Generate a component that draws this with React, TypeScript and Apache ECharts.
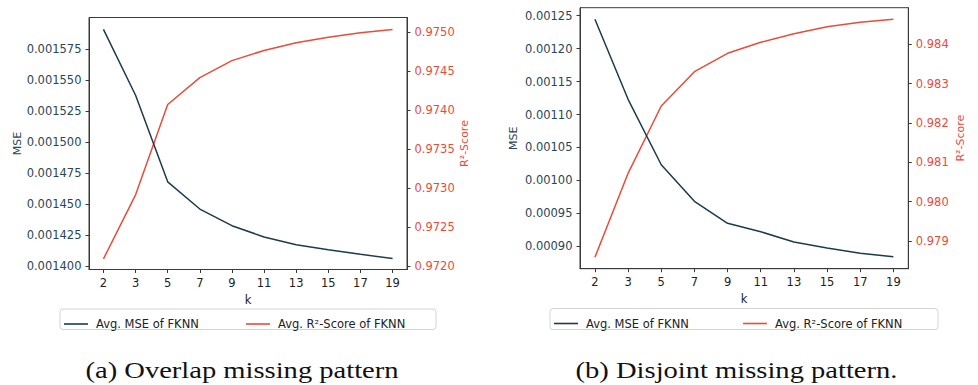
import React, { useEffect, useRef } from "react";
import * as echarts from "echarts";

const kValues = ["2", "3", "5", "7", "9", "11", "13", "15", "17", "19"];

const overlapMse = [0.0015908, 0.0015378, 0.001468, 0.0014461, 0.0014327, 0.0014236, 0.0014174, 0.0014134, 0.0014096, 0.0014062];
const overlapR2 = [0.972094, 0.972915, 0.974073, 0.974418, 0.974635, 0.974766, 0.974865, 0.974936, 0.974992, 0.975034];

const disjointMse = [0.0012445, 0.0011231, 0.0010238, 0.0009683, 0.0009349, 0.0009221, 0.0009065, 0.0008974, 0.0008893, 0.0008842];
const disjointR2 = [0.978586, 0.980721, 0.982432, 0.983304, 0.983771, 0.984051, 0.984269, 0.984447, 0.984559, 0.984635];

const overlapMseTicks = [0.0014, 0.001425, 0.00145, 0.001475, 0.0015, 0.001525, 0.00155, 0.001575];
const overlapR2Ticks = [0.972, 0.9725, 0.973, 0.9735, 0.974, 0.9745, 0.975];
const disjointMseTicks = [0.0009, 0.00095, 0.001, 0.00105, 0.0011, 0.00115, 0.0012, 0.00125];
const disjointR2Ticks = [0.979, 0.98, 0.981, 0.982, 0.983, 0.984];

const MSE_NAME = "Avg. MSE of FKNN";
const R2_NAME = "Avg. R²-Score of FKNN";

const DARK = "#1c3b4c";
const DARK_TEXT = "#2a4657";
const RED = "#e74c3c";
const FRAME = "#3a3a3a";
const FONT = "DejaVu Sans";

export default function App() {
  const ref = useRef<HTMLDivElement>(null);

  useEffect(() => {
    document.body.style.margin = "0";
    if (!ref.current) return;
    const chart = echarts.init(ref.current, null, { renderer: "svg" });
    const idx = kValues.map((_, i) => i);

    const xAxis = (gridIndex: number) => ({
      type: "value",
      gridIndex,
      min: -0.45,
      max: 9.45,
      name: "k",
      nameLocation: "middle",
      nameGap: 24,
      nameTextStyle: { color: "#222", fontSize: 11.5, fontFamily: FONT },
      axisLine: { show: true, onZero: false, lineStyle: { color: FRAME, width: 1 } },
      axisTick: { show: true, inside: false, length: 3.5, customValues: idx, lineStyle: { color: FRAME } },
      axisLabel: {
        customValues: idx,
        margin: 7,
        color: "#222",
        fontSize: 11.5,
        fontFamily: FONT,
        formatter: (v: number) => kValues[Math.round(v)] ?? "",
      },
      splitLine: { show: false },
    });

    const yAxis = (
      gridIndex: number,
      position: "left" | "right",
      min: number,
      max: number,
      ticks: number[],
      digits: number,
      name: string,
      color: string,
      nameGap: number
    ) => ({
      type: "value",
      gridIndex,
      position,
      min,
      max,
      name,
      nameLocation: "middle",
      nameGap,
      nameTextStyle: { color, fontSize: 11, fontFamily: FONT },
      axisLine: { show: true, onZero: false, lineStyle: { color: FRAME, width: 1 } },
      axisTick: { show: true, inside: false, length: 3.5, customValues: ticks, lineStyle: { color: FRAME } },
      axisLabel: {
        customValues: ticks,
        margin: 7.5,
        color,
        fontSize: 11.5,
        fontFamily: FONT,
        formatter: (v: number) => v.toFixed(digits),
      },
      splitLine: { show: false },
    });

    const line = (name: string, data: number[], xi: number, yi: number, color: string) => ({
      type: "line",
      name,
      xAxisIndex: xi,
      yAxisIndex: yi,
      data: data.map((v, i) => [i, v]),
      symbol: "none",
      lineStyle: { color, width: 1.5 },
      itemStyle: { color },
      z: yi % 2 === 0 ? 3 : 2,
    });

    const legend = (name: string, left: number, top: number, color: string) => ({
      data: [{ name, icon: "rect", itemStyle: { color } }],
      left,
      top,
      padding: 0,
      itemWidth: 24,
      itemHeight: 1.6,
      z: 5,
      selectedMode: false,
      textStyle: { color: "#222", fontSize: 11.5, fontFamily: FONT, padding: [0, 0, 0, 3] },
    });

    chart.setOption({
      animation: false,
      backgroundColor: "#fff",
      grid: [
        { left: 89, top: 17.5, width: 318, height: 252, show: true, borderColor: FRAME, borderWidth: 1, backgroundColor: "transparent" },
        { left: 580, top: 7.7, width: 328.3, height: 261, show: true, borderColor: FRAME, borderWidth: 1, backgroundColor: "transparent" },
      ],
      xAxis: [xAxis(0), xAxis(1)],
      yAxis: [
        yAxis(0, "left", 0.0013974, 0.0016004, overlapMseTicks, 6, "MSE", DARK_TEXT, 66),
        yAxis(0, "right", 0.971958, 0.975188, overlapR2Ticks, 4, "R²-Score", RED, 52),
        yAxis(1, "left", 0.000866, 0.0012621, disjointMseTicks, 5, "MSE", DARK_TEXT, 61),
        yAxis(1, "right", 0.978296, 0.98493, disjointR2Ticks, 3, "R²-Score", RED, 47),
      ],
      legend: [
        legend(MSE_NAME, 64, 318, DARK),
        legend(R2_NAME, 246, 318, RED),
        legend(MSE_NAME, 554, 317.5, DARK),
        legend(R2_NAME, 743, 317.5, RED),
      ],
      graphic: [
        { type: "rect", z: 0, shape: { x: 60, y: 309, width: 376, height: 20.5, r: 3 }, style: { fill: "#fff", stroke: "#d4d4d4", lineWidth: 1 } },
        { type: "rect", z: 0, shape: { x: 550, y: 308.5, width: 388, height: 21, r: 3 }, style: { fill: "#fff", stroke: "#d4d4d4", lineWidth: 1 } },
        {
          type: "text",
          z: 5,
          x: 242,
          y: 370,
          scaleX: 1.19,
          style: { text: "(a) Overlap missing pattern", font: "24px 'Liberation Serif'", fill: "#111", textAlign: "center", textVerticalAlign: "middle" },
        },
        {
          type: "text",
          z: 5,
          x: 736.5,
          y: 370,
          scaleX: 1.19,
          style: { text: "(b) Disjoint missing pattern.", font: "24px 'Liberation Serif'", fill: "#111", textAlign: "center", textVerticalAlign: "middle" },
        },
      ],
      series: [
        line(MSE_NAME, overlapMse, 0, 0, DARK),
        line(R2_NAME, overlapR2, 0, 1, RED),
        line(MSE_NAME, disjointMse, 1, 2, DARK),
        line(R2_NAME, disjointR2, 1, 3, RED),
      ],
    });

    return () => chart.dispose();
  }, []);

  return <div ref={ref} style={{ width: 978, height: 385, position: "absolute", left: 0, top: 0 }} />;
}
